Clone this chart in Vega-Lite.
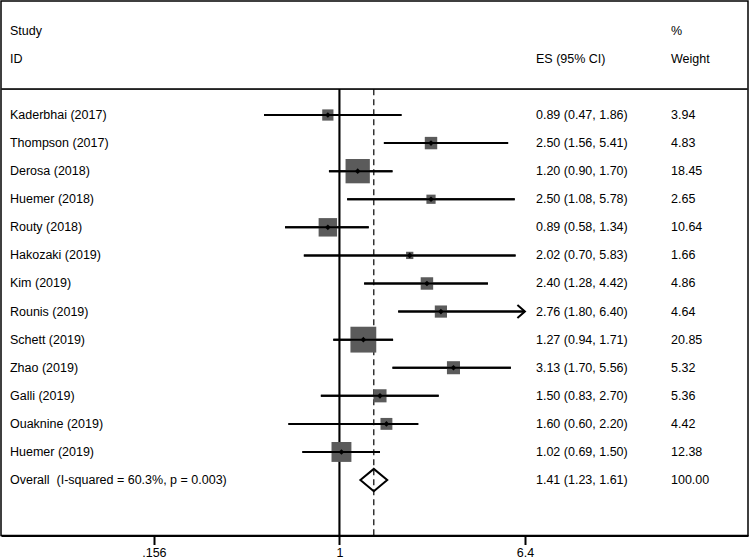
{
  "$schema": "https://vega.github.io/schema/vega-lite/v6.json",
  "width": 747,
  "height": 534.5,
  "autosize": {"type": "none"},
  "padding": {"left": 1, "top": 1, "right": 2, "bottom": 24},
  "background": "white",
  "config": {
    "view": {"stroke": "black", "strokeWidth": 1.5},
    "text": {"font": "Liberation Sans", "fontSize": 12.5, "color": "black", "baseline": "middle", "align": "left"}
  },
  "datasets": {
    "studies": [
      {"row": 1, "study": "Kaderbhai (2017)", "es": 0.89, "lo": 0.47, "hi": 1.86, "weight": 3.94, "ci": "0.89 (0.47, 1.86)", "arrow": false},
      {"row": 2, "study": "Thompson (2017)", "es": 2.50, "lo": 1.56, "hi": 5.41, "weight": 4.83, "ci": "2.50 (1.56, 5.41)", "arrow": false},
      {"row": 3, "study": "Derosa (2018)", "es": 1.20, "lo": 0.90, "hi": 1.70, "weight": 18.45, "ci": "1.20 (0.90, 1.70)", "arrow": false},
      {"row": 4, "study": "Huemer (2018)", "es": 2.50, "lo": 1.08, "hi": 5.78, "weight": 2.65, "ci": "2.50 (1.08, 5.78)", "arrow": false},
      {"row": 5, "study": "Routy (2018)", "es": 0.89, "lo": 0.58, "hi": 1.34, "weight": 10.64, "ci": "0.89 (0.58, 1.34)", "arrow": false},
      {"row": 6, "study": "Hakozaki (2019)", "es": 2.02, "lo": 0.70, "hi": 5.83, "weight": 1.66, "ci": "2.02 (0.70, 5.83)", "arrow": false},
      {"row": 7, "study": "Kim (2019)", "es": 2.40, "lo": 1.28, "hi": 4.42, "weight": 4.86, "ci": "2.40 (1.28, 4.42)", "arrow": false},
      {"row": 8, "study": "Rounis (2019)", "es": 2.76, "lo": 1.80, "hi": 6.40, "weight": 4.64, "ci": "2.76 (1.80, 6.40)", "arrow": true},
      {"row": 9, "study": "Schett (2019)", "es": 1.27, "lo": 0.94, "hi": 1.71, "weight": 20.85, "ci": "1.27 (0.94, 1.71)", "arrow": false},
      {"row": 10, "study": "Zhao (2019)", "es": 3.13, "lo": 1.70, "hi": 5.56, "weight": 5.32, "ci": "3.13 (1.70, 5.56)", "arrow": false},
      {"row": 11, "study": "Galli (2019)", "es": 1.50, "lo": 0.83, "hi": 2.70, "weight": 5.36, "ci": "1.50 (0.83, 2.70)", "arrow": false},
      {"row": 12, "study": "Ouaknine (2019)", "es": 1.60, "lo": 0.60, "hi": 2.20, "weight": 4.42, "ci": "1.60 (0.60, 2.20)", "arrow": false},
      {"row": 13, "study": "Huemer (2019)", "es": 1.02, "lo": 0.69, "hi": 1.50, "weight": 12.38, "ci": "1.02 (0.69, 1.50)", "arrow": false}
    ],
    "overall": [
      {"row": 14, "study": "Overall\u00a0 (I-squared = 60.3%, p = 0.003)", "es": 1.41, "lo": 1.23, "hi": 1.61, "weight": 100.00, "ci": "1.41 (1.23, 1.61)"}
    ],
    "header": [
      {"row": -2, "col": "label", "text": "Study"},
      {"row": -1, "col": "label", "text": "ID"},
      {"row": -1, "col": "es", "text": "ES (95% CI)"},
      {"row": -2, "col": "weight", "text": "%"},
      {"row": -1, "col": "weight", "text": "Weight"}
    ]
  },
  "layer": [
    {
      "data": {"name": "studies"},
      "mark": {"type": "rule", "strokeWidth": 2, "color": "black", "strokeCap": "butt"},
      "encoding": {
        "x": {
          "field": "lo", "type": "quantitative",
          "scale": {"type": "log", "domain": [0.03376, 59.72], "nice": false, "zero": false},
          "axis": {
            "values": [0.156, 1, 6.4],
            "labelExpr": "datum.value < 0.2 ? '.156' : (datum.value < 2 ? '1' : '6.4')",
            "title": null, "grid": false,
            "domain": true, "domainColor": "black", "domainWidth": 2,
            "ticks": true, "tickColor": "black", "tickWidth": 2, "tickSize": 9,
            "labelFont": "Liberation Sans", "labelFontSize": 12.5, "labelColor": "black",
            "labelPadding": 2, "labelBaseline": "top"
          }
        },
        "x2": {"field": "hi"},
        "y": {
          "field": "row", "type": "quantitative",
          "scale": {"domain": [-3.06, 15.975], "reverse": true, "nice": false, "zero": false},
          "axis": null
        }
      }
    },
    {
      "data": {"name": "header"},
      "mark": {"type": "rule", "strokeWidth": 1, "color": "#222222"},
      "encoding": {"y": {"datum": 0.08, "type": "quantitative"}}
    },
    {
      "data": {"name": "header"},
      "mark": {"type": "rule", "strokeWidth": 1.3, "color": "black"},
      "encoding": {
        "x": {"datum": 1, "type": "quantitative"},
        "y": {"datum": 0.08, "type": "quantitative"},
        "y2": {"datum": 15.975}
      }
    },
    {
      "data": {"name": "overall"},
      "mark": {"type": "rule", "strokeWidth": 1.2, "color": "black", "strokeDash": [6, 4]},
      "encoding": {
        "x": {"field": "es", "type": "quantitative"},
        "y": {"datum": 0.08, "type": "quantitative"},
        "y2": {"datum": 15.975}
      }
    },
    {
      "data": {"name": "studies"},
      "mark": {"type": "point", "shape": "square", "filled": true, "color": "#5b5b5b", "opacity": 1, "strokeWidth": 0},
      "encoding": {
        "x": {"field": "es", "type": "quantitative"},
        "y": {"field": "row", "type": "quantitative"},
        "size": {"field": "weight", "type": "quantitative", "scale": {"type": "linear", "domain": [0, 25], "range": [0, 800], "zero": true}, "legend": null}
      }
    },
    {
      "data": {"name": "studies"},
      "mark": {"type": "rule", "strokeWidth": 2, "color": "black", "strokeCap": "butt"},
      "encoding": {
        "x": {"field": "lo", "type": "quantitative"},
        "x2": {"field": "hi"},
        "y": {"field": "row", "type": "quantitative"}
      }
    },
    {
      "data": {"name": "studies"},
      "mark": {"type": "point", "shape": "diamond", "filled": true, "color": "black", "opacity": 1, "size": 32},
      "encoding": {
        "x": {"field": "es", "type": "quantitative"},
        "y": {"field": "row", "type": "quantitative"}
      }
    },
    {
      "data": {"name": "studies"},
      "transform": [{"filter": "datum.arrow"}],
      "mark": {"type": "point", "shape": "M-1.15,-1L0,0L-1.15,1", "filled": false, "color": "black", "opacity": 1, "strokeWidth": 2, "size": 170},
      "encoding": {
        "x": {"field": "hi", "type": "quantitative"},
        "y": {"field": "row", "type": "quantitative"}
      }
    },
    {
      "data": {"name": "overall"},
      "mark": {"type": "point", "shape": "M-1,0L0,-0.83L1,0L0,0.83Z", "filled": false, "fill": "white", "fillOpacity": 0, "color": "black", "opacity": 1, "strokeWidth": 2, "size": 720},
      "encoding": {
        "x": {"field": "es", "type": "quantitative"},
        "y": {"field": "row", "type": "quantitative"}
      }
    },
    {
      "data": {"name": "studies"},
      "mark": {"type": "text"},
      "encoding": {
        "x": {"datum": 0.03693, "type": "quantitative"},
        "y": {"field": "row", "type": "quantitative"},
        "text": {"field": "study"}
      }
    },
    {
      "data": {"name": "studies"},
      "mark": {"type": "text"},
      "encoding": {
        "x": {"datum": 7.151, "type": "quantitative"},
        "y": {"field": "row", "type": "quantitative"},
        "text": {"field": "ci"}
      }
    },
    {
      "data": {"name": "studies"},
      "mark": {"type": "text"},
      "encoding": {
        "x": {"datum": 27.63, "type": "quantitative"},
        "y": {"field": "row", "type": "quantitative"},
        "text": {"field": "weight", "type": "quantitative", "format": ".2f"}
      }
    },
    {
      "data": {"name": "overall"},
      "mark": {"type": "text"},
      "encoding": {
        "x": {"datum": 0.03693, "type": "quantitative"},
        "y": {"field": "row", "type": "quantitative"},
        "text": {"field": "study"}
      }
    },
    {
      "data": {"name": "overall"},
      "mark": {"type": "text"},
      "encoding": {
        "x": {"datum": 7.151, "type": "quantitative"},
        "y": {"field": "row", "type": "quantitative"},
        "text": {"field": "ci"}
      }
    },
    {
      "data": {"name": "overall"},
      "mark": {"type": "text"},
      "encoding": {
        "x": {"datum": 27.63, "type": "quantitative"},
        "y": {"field": "row", "type": "quantitative"},
        "text": {"field": "weight", "type": "quantitative", "format": ".2f"}
      }
    },
    {
      "data": {"name": "header"},
      "transform": [{"filter": "datum.col == 'label'"}],
      "mark": {"type": "text"},
      "encoding": {
        "x": {"datum": 0.03693, "type": "quantitative"},
        "y": {"field": "row", "type": "quantitative"},
        "text": {"field": "text"}
      }
    },
    {
      "data": {"name": "header"},
      "transform": [{"filter": "datum.col == 'es'"}],
      "mark": {"type": "text"},
      "encoding": {
        "x": {"datum": 7.151, "type": "quantitative"},
        "y": {"field": "row", "type": "quantitative"},
        "text": {"field": "text"}
      }
    },
    {
      "data": {"name": "header"},
      "transform": [{"filter": "datum.col == 'weight'"}],
      "mark": {"type": "text"},
      "encoding": {
        "x": {"datum": 27.63, "type": "quantitative"},
        "y": {"field": "row", "type": "quantitative"},
        "text": {"field": "text"}
      }
    }
  ]
}
